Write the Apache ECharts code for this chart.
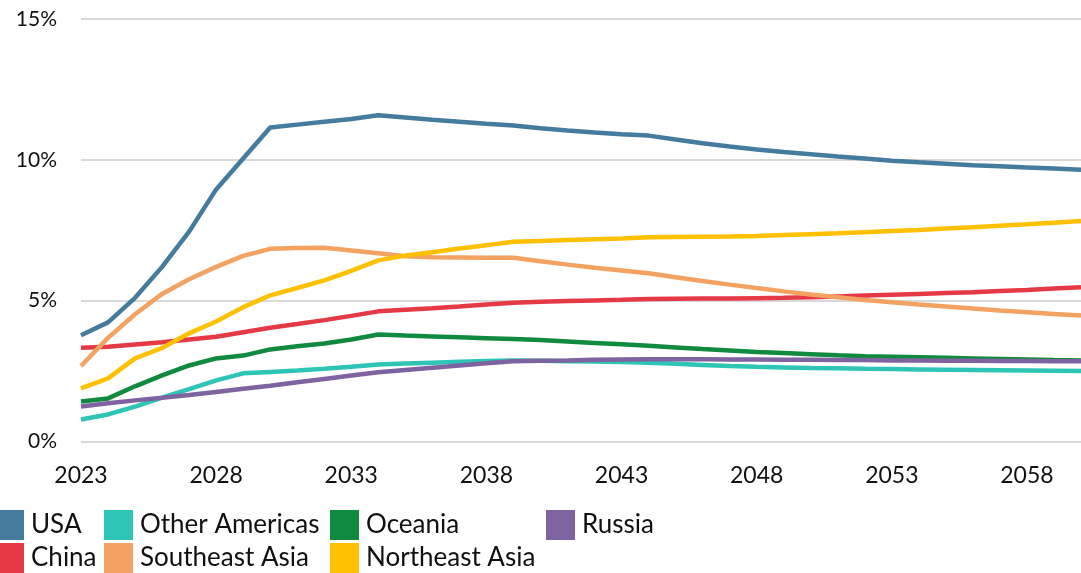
<!DOCTYPE html>
<html>
<head>
<meta charset="utf-8">
<script src="https://cdn.jsdelivr.net/npm/echarts@6/dist/echarts.min.js"></script>
<style>
  html, body { margin: 0; padding: 0; background: #fff; }
  #chart { width: 1081px; height: 573px; }
</style>
</head>
<body>
<div id="chart"></div>
<script>
const years = ['2023','2024','2025','2026','2027','2028','2029','2030','2031','2032',
  '2033','2034','2035','2036','2037','2038','2039','2040','2041','2042',
  '2043','2044','2045','2046','2047','2048','2049','2050','2051','2052',
  '2053','2054','2055','2056','2057','2058','2059','2060'];

const usa = [3.77,4.23,5.10,6.20,7.45,8.95,10.05,11.15,11.25,11.35,
  11.45,11.58,11.50,11.42,11.35,11.28,11.22,11.12,11.04,10.97,
  10.91,10.86,10.72,10.59,10.47,10.37,10.28,10.20,10.12,10.05,
  9.97,9.91,9.86,9.81,9.77,9.73,9.69,9.65];

const otherAmericas = [0.78,0.96,1.24,1.56,1.86,2.17,2.42,2.47,2.52,2.58,
  2.65,2.73,2.77,2.80,2.83,2.86,2.88,2.87,2.85,2.84,
  2.82,2.80,2.76,2.72,2.68,2.65,2.63,2.61,2.60,2.58,
  2.57,2.56,2.55,2.54,2.53,2.52,2.51,2.50];

const oceania = [1.42,1.53,1.96,2.35,2.70,2.95,3.05,3.27,3.38,3.48,
  3.62,3.80,3.76,3.73,3.70,3.67,3.64,3.60,3.55,3.50,
  3.45,3.40,3.34,3.28,3.23,3.18,3.14,3.10,3.06,3.03,
  3.01,2.99,2.97,2.95,2.93,2.91,2.89,2.88];

const russia = [1.24,1.36,1.46,1.55,1.65,1.76,1.87,1.98,2.10,2.22,
  2.34,2.46,2.54,2.62,2.70,2.78,2.85,2.87,2.88,2.90,
  2.91,2.92,2.92,2.92,2.91,2.91,2.90,2.90,2.89,2.89,
  2.88,2.88,2.87,2.87,2.86,2.86,2.85,2.85];

const china = [3.33,3.36,3.44,3.52,3.62,3.72,3.88,4.04,4.17,4.31,
  4.46,4.62,4.68,4.73,4.79,4.86,4.93,4.96,4.99,5.01,
  5.03,5.06,5.07,5.08,5.08,5.09,5.10,5.12,5.15,5.18,
  5.21,5.24,5.27,5.30,5.34,5.38,5.43,5.48];

const southeastAsia = [2.68,3.68,4.52,5.24,5.76,6.20,6.59,6.84,6.87,6.88,
  6.78,6.68,6.58,6.54,6.53,6.52,6.52,6.40,6.28,6.17,
  6.07,5.97,5.83,5.70,5.57,5.45,5.33,5.22,5.12,5.02,
  4.94,4.86,4.79,4.72,4.65,4.59,4.53,4.47];

const northeastAsia = [1.89,2.24,2.95,3.32,3.84,4.26,4.77,5.19,5.45,5.72,
  6.06,6.43,6.60,6.72,6.85,6.97,7.09,7.12,7.15,7.18,
  7.21,7.25,7.26,7.27,7.28,7.30,7.33,7.36,7.39,7.43,
  7.47,7.51,7.56,7.61,7.66,7.71,7.77,7.83];

const yTicks = [0, 5, 10, 15];

const seriesDefs = [
  { name: 'USA', data: usa, color: '#457B9D' },
  { name: 'Other Americas', data: otherAmericas, color: '#2EC4B6' },
  { name: 'Oceania', data: oceania, color: '#108A3E' },
  { name: 'Russia', data: russia, color: '#7F62A0' },
  { name: 'China', data: china, color: '#E63946' },
  { name: 'Southeast Asia', data: southeastAsia, color: '#F4A261' },
  { name: 'Northeast Asia', data: northeastAsia, color: '#FFC000' }
];

const FONT = "Lato, 'Noto Sans', sans-serif";

const legendCols = [
  { left: -5, data: ['USA', 'China'] },
  { left: 104, data: ['Other Americas', 'Southeast Asia'] },
  { left: 330, data: ['Oceania', 'Northeast Asia'] },
  { left: 546, data: ['Russia'] }
];

const chart = echarts.init(document.getElementById('chart'), null, { renderer: 'canvas' });

chart.setOption({
  animation: false,
  backgroundColor: '#ffffff',
  grid: { left: 81, right: -15, top: 19, bottom: 131.5, containLabel: false },
  xAxis: {
    type: 'category',
    data: years,
    boundaryGap: false,
    axisLine: { show: false },
    axisTick: { show: false },
    axisLabel: {
      interval: 4,
      margin: 23,
      fontFamily: FONT,
      fontSize: 23,
      color: '#111'
    },
    splitLine: { show: false }
  },
  yAxis: {
    type: 'value',
    min: yTicks[0],
    max: yTicks[yTicks.length - 1],
    interval: 5,
    axisLine: { show: false },
    axisTick: { show: false },
    axisLabel: {
      formatter: '{value}%',
      margin: 24,
      fontFamily: FONT,
      fontSize: 21,
      color: '#111'
    },
    splitLine: { lineStyle: { color: '#D9D9D9', width: 2 } }
  },
  legend: legendCols.map(c => ({
    data: c.data,
    left: c.left,
    top: 510,
    orient: 'vertical',
    icon: 'rect',
    itemWidth: 29,
    itemHeight: 30,
    itemGap: 3,
    selectedMode: false,
    padding: 0,
    textStyle: {
      fontFamily: FONT,
      fontSize: 26,
      color: '#111',
      padding: [0, 0, 0, 2]
    }
  })),
  series: seriesDefs.map(s => ({
    name: s.name,
    type: 'line',
    data: s.data,
    symbol: 'none',
    smooth: false,
    color: s.color,
    lineStyle: { width: 4.5, color: s.color },
    itemStyle: { color: s.color },
    emphasis: { disabled: true }
  }))
});
</script>
</body>
</html>
